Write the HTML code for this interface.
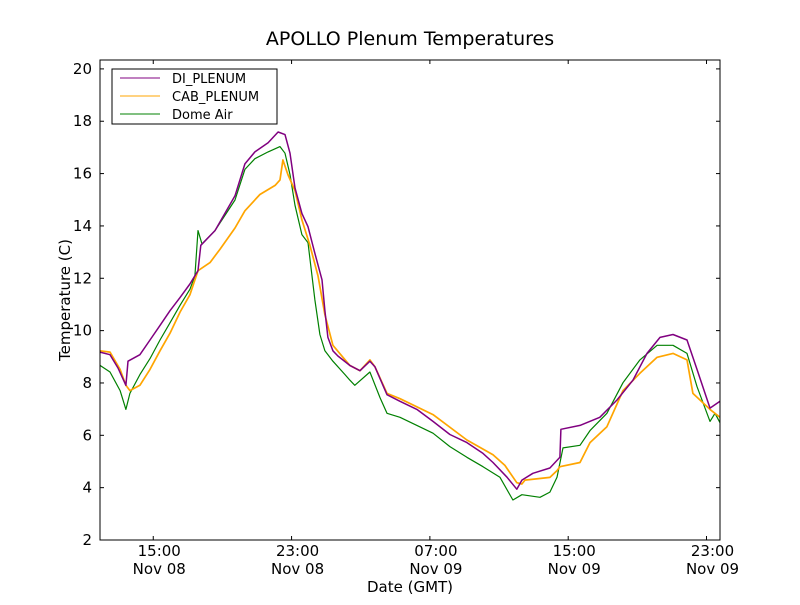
<!DOCTYPE html>
<html><head><meta charset="utf-8"><style>
body{margin:0;background:#fff;width:800px;height:600px;overflow:hidden}
text{font-family:"DejaVu Sans","Liberation Sans",sans-serif}
</style></head><body>
<svg id="chart" width="800" height="600" xmlns="http://www.w3.org/2000/svg">
<rect width="800" height="600" fill="#fff"/>
<text x="410" y="45" font-size="19" text-anchor="middle">APOLLO Plenum Temperatures</text>
<g id="axes"></g>
<g id="series"></g>
<rect x="100" y="60" width="620" height="480" fill="none" stroke="#000" stroke-width="1"/>
<text x="410" y="592" font-size="15" text-anchor="middle">Date (GMT)</text>
<text x="70" y="300" font-size="15" text-anchor="middle" transform="rotate(-90 70 300)">Temperature (C)</text>
<g>
<rect x="112" y="69" width="165" height="55" fill="#fff" stroke="#000"/>
<line x1="120" y1="78" x2="160" y2="78" stroke="#800080"/>
<text x="172" y="83" font-size="13">DI_PLENUM</text>
<line x1="120" y1="96" x2="160" y2="96" stroke="#ffa500"/>
<text x="172" y="101" font-size="13">CAB_PLENUM</text>
<line x1="120" y1="114" x2="160" y2="114" stroke="#008000"/>
<text x="172" y="119" font-size="13">Dome Air</text>
</g>
</svg>
<script>
// hours since 12:00 Nov 08 (GMT)
const diT=[-0.08,0.5,0.96,1.42,1.5,1.54,2.23,2.81,3.39,3.97,4.55,5.12,5.59,5.75,6.57,7.73,8.3,8.88,9.64,10.22,10.62,10.91,11.2,11.6,11.95,12.35,12.76,12.93,13.1,13.39,13.68,14.37,14.96,15.53,15.82,16.52,17.27,18.25,19.18,20.16,21.14,22.07,22.65,23.46,24.03,24.32,24.96,25.94,26.52,26.58,27.68,28.83,29.82,30.75,31.56,32.31,33.06,33.87,34.45,35.2,35.78];
const diV=[9.18,9.08,8.57,7.91,8.52,8.83,9.08,9.64,10.2,10.76,11.27,11.78,12.29,13.26,13.82,15.15,16.37,16.83,17.18,17.59,17.49,16.78,15.45,14.48,13.97,12.95,11.94,10.76,9.74,9.23,9.03,8.67,8.47,8.83,8.62,7.55,7.3,6.99,6.53,6.03,5.72,5.31,4.96,4.4,3.94,4.29,4.55,4.75,5.16,6.23,6.38,6.69,7.35,8.11,9.13,9.74,9.85,9.64,8.52,7.04,7.3];
const cabT=[-0.08,0.5,1.08,1.42,1.65,2.23,2.81,3.39,3.97,4.55,5.12,5.59,6.28,6.86,7.73,8.3,9.17,10.05,10.33,10.5,10.79,11.2,11.6,12.06,12.53,12.93,13.39,14.37,14.96,15.53,15.82,16.52,17.27,19.18,21.14,22.65,23.34,24.03,24.32,24.5,25.94,26.35,26.52,27.68,28.26,29.24,30.17,31.15,32.14,33.06,33.87,34.21,35.2,35.78];
const cabV=[9.23,9.18,8.52,7.91,7.71,7.91,8.52,9.23,9.9,10.71,11.37,12.29,12.6,13.11,13.92,14.58,15.2,15.55,15.76,16.52,15.96,15.35,14.23,13.26,12.09,10.61,9.44,8.67,8.47,8.88,8.62,7.6,7.4,6.79,5.82,5.26,4.85,4.19,4.14,4.29,4.39,4.65,4.8,4.96,5.72,6.33,7.71,8.37,8.98,9.13,8.88,7.6,6.99,6.69];
const domeT=[-0.08,0.5,1.08,1.42,1.65,2.23,2.81,3.39,3.97,4.55,5.12,5.41,5.59,5.82,6.57,7.73,8.3,8.88,9.64,10.33,10.62,10.91,11.2,11.6,11.95,12.35,12.64,12.93,13.39,14.09,14.37,14.66,15.53,16.11,16.52,17.27,18.25,19.18,20.16,21.14,22.07,23.05,23.8,24.32,25.37,25.94,26.35,26.7,27.68,28.26,29.24,30.17,31.15,32.14,33.06,33.87,34.45,35.2,35.49,35.78];
const domeV=[8.67,8.42,7.71,6.99,7.6,8.32,8.93,9.64,10.3,10.97,11.58,12.09,13.82,13.31,13.82,14.99,16.16,16.57,16.83,17.03,16.78,15.96,14.79,13.67,13.36,11.17,9.85,9.23,8.83,8.32,8.11,7.91,8.42,7.45,6.84,6.69,6.38,6.08,5.57,5.16,4.8,4.4,3.53,3.73,3.63,3.83,4.4,5.52,5.62,6.18,6.84,8.01,8.88,9.44,9.44,9.13,7.86,6.53,6.84,6.48];
const yTicks=[2,4,6,8,10,12,14,16,18,20];
const xTickHours=[3,11,19,27,35];
const xTickTimes=["15:00","23:00","07:00","15:00","23:00"];
const xTickDates=["Nov 08","Nov 08","Nov 09","Nov 09","Nov 09"];

const X0=100,X1=720,Y0=540,Y1=60,TMIN=-0.08,TMAX=35.78,VMIN=2,VMAX=20.34;
function xs(t){return X0+(t-TMIN)/(TMAX-TMIN)*(X1-X0);}
function ys(v){return Y0-(v-VMIN)/(VMAX-VMIN)*(Y0-Y1);}
const NS="http://www.w3.org/2000/svg";
const axes=document.getElementById('axes'),ser=document.getElementById('series');
function mk(tag,attrs,parent){const e=document.createElementNS(NS,tag);for(const k in attrs)e.setAttribute(k,attrs[k]);parent.appendChild(e);return e;}
yTicks.forEach(v=>{
  const y=ys(v);
  const t1=mk('line',{x1:X0,x2:X0+4,y1:y,y2:y,stroke:'#000'},axes);
  
  
  const t2=mk('line',{x1:X1-4,x2:X1,y1:y,y2:y,stroke:'#000'},axes);
  
  
  const tx=mk('text',{x:X0-8,y:y+5,'font-size':15,'text-anchor':'end'},axes);
  tx.textContent=String(v);
  
  
});
xTickHours.forEach((h,i)=>{
  const x=xs(h);
  const t1=mk('line',{x1:x,x2:x,y1:Y0,y2:Y0-4,stroke:'#000'},axes);
  
  
  const t2=mk('line',{x1:x,x2:x,y1:Y1,y2:Y1+4,stroke:'#000'},axes);
  
  
  const a=mk('text',{x:x+6,y:556,'font-size':15,'text-anchor':'middle'},axes);
  a.textContent=xTickTimes[i];
  
  
  const b=mk('text',{x:x+6,y:574,'font-size':15,'text-anchor':'middle'},axes);
  b.textContent=xTickDates[i];
  
  
});
function line(T,V,color,name,w){
  const d=T.map((t,i)=>(i?'L':'M')+xs(t).toFixed(1)+','+ys(V[i]).toFixed(1)).join('');
  const p=mk('path',{d:d,fill:'none',stroke:color,'stroke-width':w,'stroke-linejoin':'round'},ser);
  
  
}
line(domeT,domeV,'#008000','line-dome-air',1.2);
line(cabT,cabV,'#ffa500','line-cab-plenum',1.7);
line(diT,diV,'#800080','line-di-plenum',1.5);
</script>
</body></html>
